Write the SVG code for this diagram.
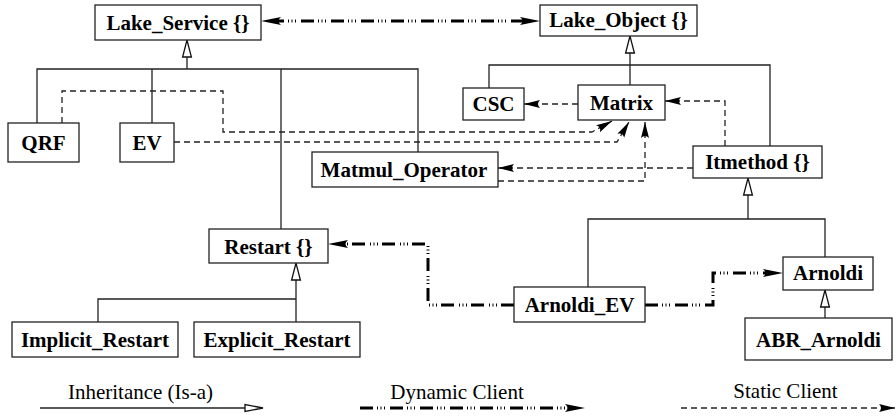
<svg xmlns="http://www.w3.org/2000/svg" width="896" height="416" viewBox="0 0 896 416">
  <style>
    .box { fill: #fff; stroke: #222; stroke-width: 1.3; }
    .lbl { font-family: "Liberation Serif", "Times New Roman", serif; font-weight: bold; font-size: 21px; fill: #000; text-anchor: middle; }
    .leg { font-family: "Liberation Serif", "Times New Roman", serif; font-size: 21px; fill: #000; text-anchor: middle; }
    .inh { fill: none; stroke: #222; stroke-width: 1.3; }
    .tri { fill: #fff; stroke: #111; stroke-width: 1.3; }
    .dyn { fill: none; stroke: #000; stroke-width: 3; stroke-dasharray: 13 4 1 2.5 1 2.5 1 5; }
    .sta { fill: none; stroke: #222; stroke-width: 1.3; stroke-dasharray: 6 4; }
  </style>
  <defs>
    <!-- notched filled head for dynamic client links (tip sits 10px past the path end) -->
    <marker id="dynHead" viewBox="0 0 20 10" refX="10" refY="5" markerWidth="20" markerHeight="10" markerUnits="userSpaceOnUse" orient="auto-start-reverse">
      <path d="M20,5 L0,1 Q5,5 0,9 Z" fill="#000"/>
    </marker>
    <!-- notched filled head for static client links -->
    <marker id="staHead" viewBox="0 0 16 10" refX="16" refY="5" markerWidth="16" markerHeight="10" markerUnits="userSpaceOnUse" orient="auto">
      <path d="M16,5 L0,1 Q4,5 0,9 Z" fill="#000"/>
    </marker>
    <!-- hollow triangle for inheritance -->
    <path id="triUp" d="M0,0 L-4.4,17 L4.4,17 Z"/>
  </defs>

  <!-- connectors -->
  <g id="connectors">
    <!-- inheritance trees -->
    <path class="inh" d="M187,57 V69 M37,123 V69 H418 V152 M152,69 V123 M281,69 V229"/>
    <use href="#triUp" class="tri" x="187" y="40"/>
    <path class="inh" d="M630,53 V85 M489,88 V65 H770 V146"/>
    <use href="#triUp" class="tri" x="630" y="36"/>
    <path class="inh" d="M748,195 V219 M588,287 V219 H825 V257"/>
    <use href="#triUp" class="tri" x="748" y="178"/>
    <path class="inh" d="M296,280 V322 M98,322 V299 H296"/>
    <use href="#triUp" class="tri" x="296" y="263"/>
    <path class="inh" d="M825,307 V318"/>
    <use href="#triUp" class="tri" x="825" y="290"/>

    <!-- dynamic client links -->
    <path class="dyn" d="M271,21 H530" marker-start="url(#dynHead)" marker-end="url(#dynHead)"/>
    <path class="dyn" d="M514,305 H428 V244 H338" marker-end="url(#dynHead)"/>
    <path class="dyn" d="M645,305 H713 V273 H773" marker-end="url(#dynHead)"/>

    <!-- static client links -->
    <path class="sta" d="M62,123 V91 H223 V132 H592 L612,121" marker-end="url(#staHead)"/>
    <path class="sta" d="M174,142 H617 L629,122" marker-end="url(#staHead)"/>
    <path class="sta" d="M498,181 H645 V122" marker-end="url(#staHead)"/>
    <path class="sta" d="M693,168 H498" marker-end="url(#staHead)"/>
    <path class="sta" d="M725,146 V101 H665" marker-end="url(#staHead)"/>
    <path class="sta" d="M578,104 H524" marker-end="url(#staHead)"/>
  </g>

  <!-- classes -->
  <g id="lake_service"><rect class="box" x="95" y="5" width="166" height="35"/><text class="lbl" x="178" y="30">Lake_Service {}</text></g>
  <g id="lake_object"><rect class="box" x="540" y="5" width="157" height="31"/><text class="lbl" x="618.5" y="27">Lake_Object {}</text></g>
  <g id="qrf"><rect class="box" x="8" y="123" width="71" height="39"/><text class="lbl" x="43.5" y="150">QRF</text></g>
  <g id="ev"><rect class="box" x="120" y="123" width="54" height="39"/><text class="lbl" x="147" y="150">EV</text></g>
  <g id="csc"><rect class="box" x="463" y="88" width="61" height="32"/><text class="lbl" x="493.5" y="111">CSC</text></g>
  <g id="matrix"><rect class="box" x="578" y="85" width="87" height="35"/><text class="lbl" x="621.5" y="110">Matrix</text></g>
  <g id="matmul_operator"><rect class="box" x="312" y="152" width="186" height="35"/><text class="lbl" x="404" y="177">Matmul_Operator</text></g>
  <g id="itmethod"><rect class="box" x="693" y="146" width="129" height="32"/><text class="lbl" x="757.5" y="169">Itmethod {}</text></g>
  <g id="restart"><rect class="box" x="209" y="229" width="119" height="34"/><text class="lbl" x="268.5" y="254">Restart {}</text></g>
  <g id="arnoldi_ev"><rect class="box" x="514" y="287" width="131" height="35"/><text class="lbl" x="579.5" y="312">Arnoldi_EV</text></g>
  <g id="arnoldi"><rect class="box" x="783" y="257" width="90" height="33"/><text class="lbl" x="828" y="280">Arnoldi</text></g>
  <g id="implicit_restart"><rect class="box" x="12" y="322" width="166" height="35"/><text class="lbl" x="95" y="347">Implicit_Restart</text></g>
  <g id="explicit_restart"><rect class="box" x="194" y="322" width="166" height="35"/><text class="lbl" x="277" y="347">Explicit_Restart</text></g>
  <g id="abr_arnoldi"><rect class="box" x="745" y="318" width="147" height="42"/><text class="lbl" x="818.5" y="347">ABR_Arnoldi</text></g>

  <!-- legend -->
  <g id="legend">
    <text class="leg" x="140.5" y="399">Inheritance (Is-a)</text>
    <path class="inh" d="M40,408 H245"/>
    <path class="tri" d="M263,408 L245,404.5 L245,411.5 Z"/>
    <text class="leg" x="457" y="399">Dynamic Client</text>
    <path class="dyn" d="M360,408 H575" marker-end="url(#dynHead)"/>
    <text class="leg" x="785.5" y="398">Static Client</text>
    <path class="sta" d="M681,408 H895" marker-end="url(#staHead)"/>
  </g>
</svg>
